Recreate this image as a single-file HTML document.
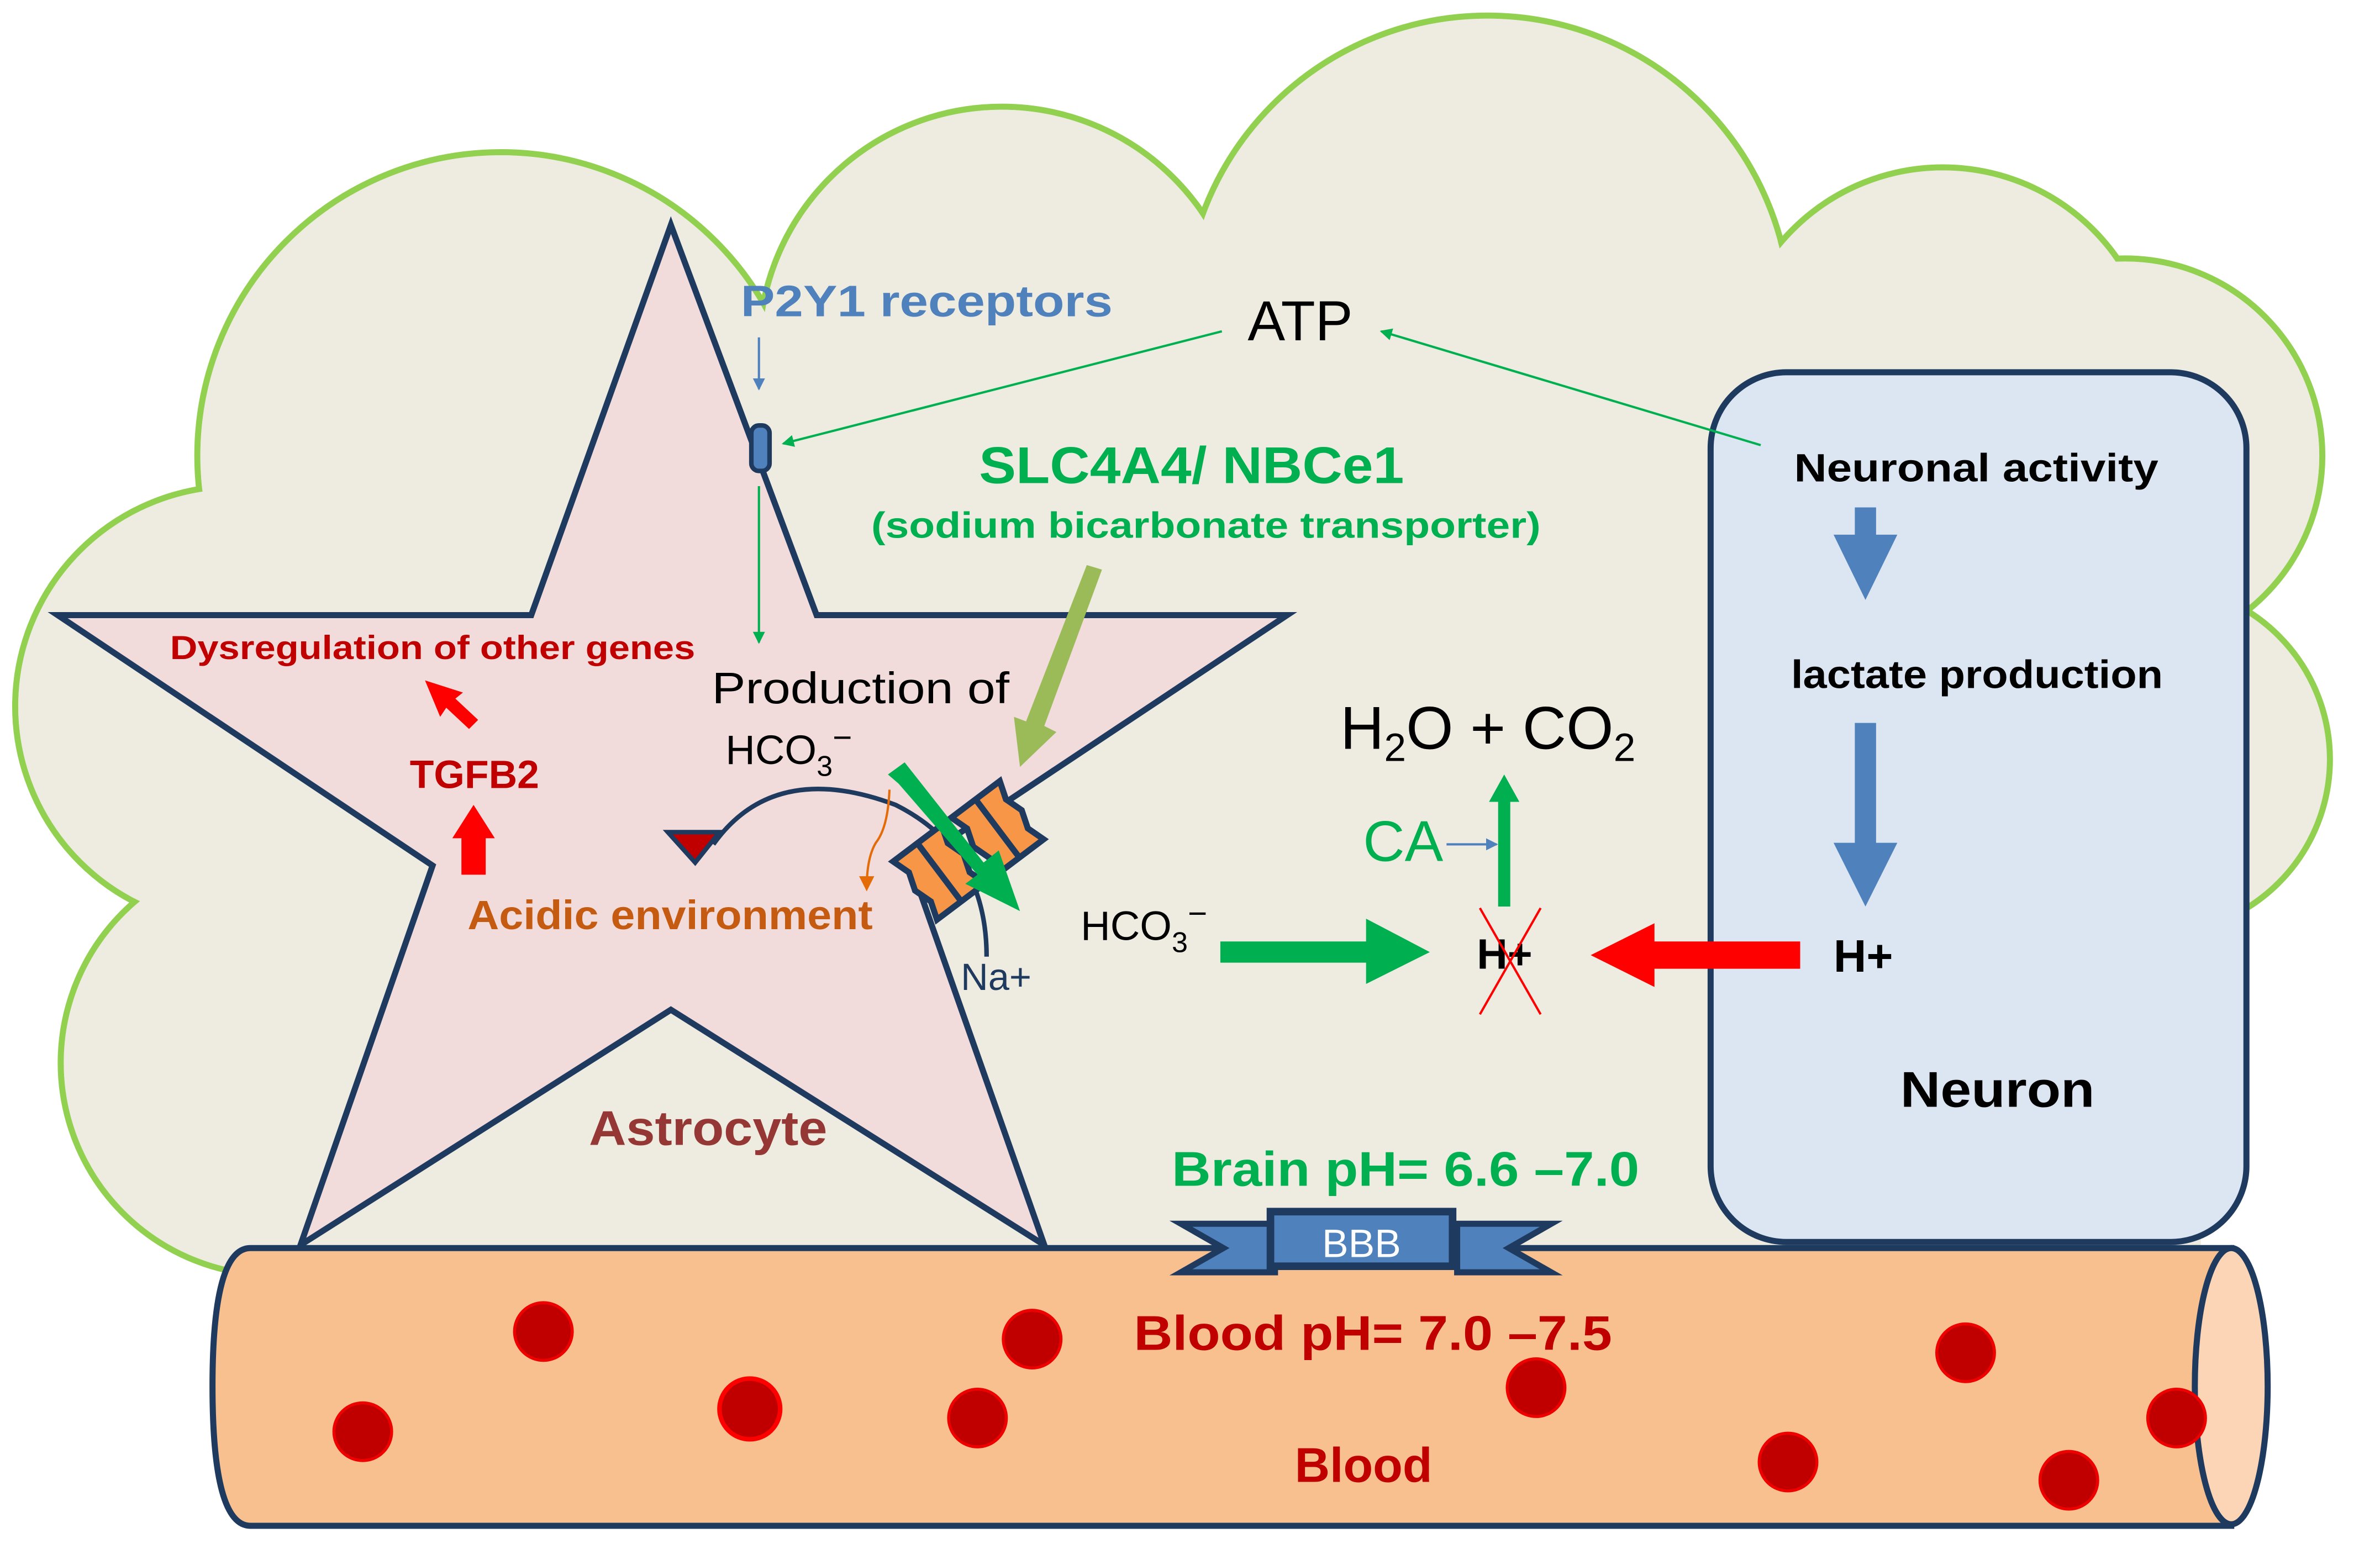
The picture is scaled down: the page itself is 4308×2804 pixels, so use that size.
<!DOCTYPE html>
<html><head><meta charset="utf-8"><style>
html,body{margin:0;padding:0;background:#fff;}
svg{display:block;}
text{font-family:"Liberation Sans",sans-serif;}
</style></head><body>
<svg width="4308" height="2804" viewBox="0 0 1568 1020" xmlns="http://www.w3.org/2000/svg">
<defs>
<marker id="ag" markerWidth="8" markerHeight="8" refX="7" refY="4" orient="auto" markerUnits="userSpaceOnUse"><path d="M0,0 L8,4 L0,8 z" fill="#00b050"/></marker>
<marker id="ab" markerWidth="8" markerHeight="8" refX="7" refY="4" orient="auto" markerUnits="userSpaceOnUse"><path d="M0,0 L8,4 L0,8 z" fill="#4f81bd"/></marker>
<marker id="ao" markerWidth="10" markerHeight="10" refX="8" refY="5" orient="auto" markerUnits="userSpaceOnUse"><path d="M0,0 L10,5 L0,10 z" fill="#e36c09"/></marker>
</defs>
<rect width="1568" height="1020" fill="#fff"/>
<!-- cloud -->
<g fill="#eeebe0" stroke="#92d050" stroke-width="4">
<circle cx="330" cy="300" r="200"/>
<circle cx="660" cy="230" r="160"/>
<circle cx="980" cy="210" r="200"/>
<circle cx="1280" cy="250" r="140"/>
<circle cx="1400" cy="300" r="130"/>
<circle cx="1420" cy="500" r="115"/>
<circle cx="155" cy="465" r="145"/>
<circle cx="180" cy="700" r="140"/>
</g>
<g fill="#eeebe0">
<circle cx="330" cy="300" r="198"/>
<circle cx="660" cy="230" r="158"/>
<circle cx="980" cy="210" r="198"/>
<circle cx="1280" cy="250" r="138"/>
<circle cx="1400" cy="300" r="128"/>
<circle cx="1420" cy="500" r="113"/>
<circle cx="155" cy="465" r="143"/>
<circle cx="180" cy="700" r="138"/>
<rect x="150" y="250" width="1300" height="590"/>
<rect x="120" y="420" width="140" height="300"/>
</g>
<!-- star -->
<path d="M442,148 L538,405 L848,405 L600,570 L688,820 L442,665 L198,820 L285,570 L38,405 L350,405 Z" fill="#f2dcdb" stroke="#1f3a5f" stroke-width="4" stroke-linejoin="miter"/>
<!-- neuron -->
<rect x="1127" y="245" width="353" height="573" rx="50" fill="#dce6f2" stroke="#1f3a5f" stroke-width="4"/>
<!-- vessel -->
<path d="M165,822 L1470,822 L1470,1005 L165,1005 Q140,1005 140,913 Q140,822 165,822 Z" fill="#f9c08f" stroke="#1f3a5f" stroke-width="4"/>
<ellipse cx="1470" cy="913" rx="24" ry="91" fill="#fbd5b5" stroke="#1f3a5f" stroke-width="4"/>
<!-- BBB ribbon -->
<path d="M778,806 L840,806 L840,838 L778,838 L806,822 Z M1022,806 L960,806 L960,838 L1022,838 L994,822 Z" fill="#4f81bd" stroke="#1f3a5f" stroke-width="4" stroke-linejoin="miter"/>
<rect x="837" y="798" width="120" height="36" fill="#4f81bd" stroke="#1f3a5f" stroke-width="5"/>
<text x="897" y="828" font-size="26" fill="#fff" text-anchor="middle">BBB</text>
<!-- blood cells -->
<g fill="#c00000" stroke="#e00" stroke-width="2">
<circle cx="358" cy="877" r="19"/><circle cx="239" cy="943" r="19"/><circle cx="494" cy="928" r="20" stroke="#f00" stroke-width="3"/>
<circle cx="644" cy="934" r="19"/><circle cx="680" cy="882" r="19"/><circle cx="1012" cy="914" r="19"/>
<circle cx="1178" cy="963" r="19"/><circle cx="1295" cy="891" r="19"/><circle cx="1363" cy="975" r="19"/><circle cx="1434" cy="934" r="19"/>
</g>
<!-- texts -->
<text x="488" y="208" font-size="29" font-weight="bold" fill="#4f81bd" textLength="245" lengthAdjust="spacingAndGlyphs">P2Y1 receptors</text>
<text x="822" y="224" font-size="37" fill="#000">ATP</text>
<text x="645" y="318" font-size="34" font-weight="bold" fill="#00b050" textLength="280" lengthAdjust="spacingAndGlyphs">SLC4A4/ NBCe1</text>
<text x="574" y="354" font-size="24" font-weight="bold" fill="#00b050" textLength="441" lengthAdjust="spacingAndGlyphs">(sodium bicarbonate transporter)</text>
<text x="1182" y="317" font-size="26" font-weight="bold" fill="#000" textLength="240" lengthAdjust="spacingAndGlyphs">Neuronal  activity</text>
<text x="1180" y="453" font-size="26" font-weight="bold" fill="#000" textLength="245" lengthAdjust="spacingAndGlyphs">lactate production</text>
<text x="112" y="434" font-size="22" font-weight="bold" fill="#c00000" textLength="346" lengthAdjust="spacingAndGlyphs">Dysregulation of other genes</text>
<text x="469" y="463" font-size="29" fill="#000" textLength="196" lengthAdjust="spacingAndGlyphs">Production of</text>
<text x="478" y="503" font-size="27" fill="#000" font-family="Liberation Serif">HCO<tspan font-size="19" dy="8">3</tspan><tspan font-size="22" dy="-18">−</tspan></text>
<text x="270" y="519" font-size="26" font-weight="bold" fill="#c00000">TGFB2</text>
<text x="883" y="493" font-size="40" fill="#000">H<tspan font-size="26" dy="8">2</tspan><tspan dy="-8">O + CO</tspan><tspan font-size="26" dy="8">2</tspan></text>
<text x="898" y="567" font-size="38" fill="#00b050">CA</text>
<text x="308" y="612" font-size="27" font-weight="bold" fill="#c55a11" textLength="267" lengthAdjust="spacingAndGlyphs">Acidic environment</text>
<text x="712" y="619" font-size="27" fill="#000" font-family="Liberation Serif">HCO<tspan font-size="19" dy="8">3</tspan><tspan font-size="22" dy="-18">−</tspan></text>
<text x="633" y="652" font-size="25" fill="#1f3a5f">Na+</text>
<text x="973" y="638" font-size="28" font-weight="bold" fill="#000">H+</text>
<text x="1208" y="640" font-size="30" font-weight="bold" fill="#000">H+</text>
<text x="1252" y="729" font-size="33" font-weight="bold" fill="#000" textLength="128" lengthAdjust="spacingAndGlyphs">Neuron</text>
<text x="388" y="754" font-size="32" font-weight="bold" fill="#953735" textLength="157" lengthAdjust="spacingAndGlyphs">Astrocyte</text>
<text x="772" y="781" font-size="32" font-weight="bold" fill="#00b050" textLength="308" lengthAdjust="spacingAndGlyphs">Brain pH= 6.6 –7.0</text>
<text x="747" y="889" font-size="32" font-weight="bold" fill="#c00000" textLength="315" lengthAdjust="spacingAndGlyphs">Blood pH= 7.0 –7.5</text>
<text x="853" y="976" font-size="32" font-weight="bold" fill="#c00000">Blood</text>
<!-- receptor -->
<rect x="495" y="280" width="12" height="30" rx="5" fill="#4f81bd" stroke="#1f3a5f" stroke-width="3"/>
<!-- thin arrows -->
<line x1="500" y1="222" x2="500" y2="256" stroke="#4f81bd" stroke-width="1.5" marker-end="url(#ab)"/>
<line x1="805" y1="218" x2="516" y2="292" stroke="#00b050" stroke-width="1.5" marker-end="url(#ag)"/>
<line x1="1160" y1="293" x2="910" y2="218" stroke="#00b050" stroke-width="1.5" marker-end="url(#ag)"/>
<line x1="500" y1="320" x2="500" y2="423" stroke="#00b050" stroke-width="1.5" marker-end="url(#ag)"/>
<line x1="953" y1="556" x2="986" y2="556" stroke="#4f81bd" stroke-width="1.5" marker-end="url(#ab)"/>
<!-- red arrows in star -->
<path d="M304,576 L304,552 L298,552 L312,530 L326,552 L320,552 L320,576 Z" fill="#f00"/>
<path d="M309,480 L294,466 L290,472 L280,448 L305,456 L300,460 L315,474 Z" fill="#f00"/>
<!-- curved arc -->
<path d="M470,556 Q510,500 590,530 Q650,560 650,630" fill="none" stroke="#1f3a5f" stroke-width="3"/>
<path d="M440,548 L474,548 L458,568 Z" fill="#c00000" stroke="#1f3a5f" stroke-width="3"/>
<!-- orange thin arrow -->
<path d="M586,520 Q585,545 577,555 Q571,565 571,585" fill="none" stroke="#e36c09" stroke-width="1.5" marker-end="url(#ao)"/>
<!-- transporter -->
<g transform="translate(638,560) rotate(-37)" stroke="#1f3a5f" stroke-width="4" stroke-linejoin="miter" fill="#f79646">
<path d="M-44,-24 L-4,-24 L-8,-12 L-4,0 L-8,12 L-4,24 L-44,24 L-40,12 L-44,0 L-40,-12 Z"/>
<path d="M4,-24 L44,-24 L40,-12 L44,0 L40,12 L44,24 L4,24 L8,12 L4,0 L8,-12 Z"/>
<line x1="-24" y1="-24" x2="-24" y2="24"/>
<line x1="24" y1="-24" x2="24" y2="24"/>
</g>
<!-- green transporter arrow -->
<path d="M585,510 L596,502 L648,568 L658,560 L672,600 L636,582 L644,576 L592,516 Z" fill="#00b050"/>
<!-- olive arrow -->
<path d="M716,372 L726,375 L688,478 L696,482 L672,505 L668,472 L676,475 Z" fill="#9bbb59"/>
<!-- neuron blue arrows -->
<path d="M1222,334 L1236,334 L1236,352 L1250,352 L1229,395 L1208,352 L1222,352 Z" fill="#4f81bd"/>
<path d="M1222,476 L1236,476 L1236,555 L1250,555 L1229,597 L1208,555 L1222,555 Z" fill="#4f81bd"/>
<!-- big green arrow -->
<path d="M804,620 L900,620 L900,605 L942,627 L900,648 L900,634 L804,634 Z" fill="#00b050"/>
<!-- big red arrow -->
<path d="M1186,620 L1090,620 L1090,608 L1048,629 L1090,650 L1090,638 L1186,638 Z" fill="#f00"/>
<!-- CA up arrow -->
<path d="M987,597 L987,528 L981,528 L991,510 L1001,528 L995,528 L995,597 Z" fill="#00b050"/>
<!-- red X -->
<line x1="975" y1="598" x2="1015" y2="668" stroke="#f00" stroke-width="1.5"/>
<line x1="1015" y1="598" x2="975" y2="668" stroke="#f00" stroke-width="1.5"/>
</svg>
</body></html>
